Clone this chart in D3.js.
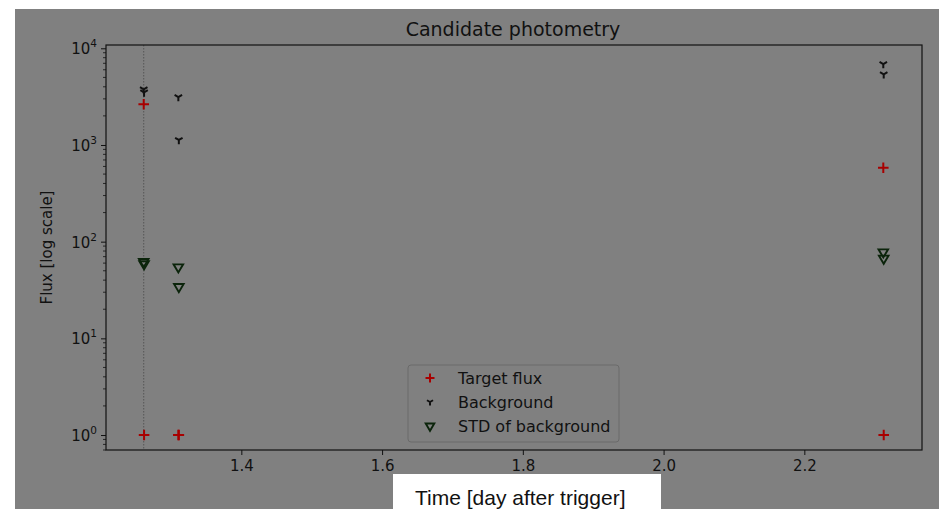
<!DOCTYPE html>
<html>
<head>
<meta charset="utf-8">
<script src="https://cdn.jsdelivr.net/npm/d3@7"></script>
<style>
  body { margin: 0; background: #ffffff; }
  svg { display: block; }
</style>
</head>
<body>
<div id="chart"></div>
<script>
// observation times (days after trigger)
var times = [1.2613, 1.2618, 1.3105, 1.3112, 2.3122, 2.3128];
var targetFlux = [2640, 1.0, 1.0, 1.0, 582, 1.0];
var background = [3770, 3500, 3135, 1127, 6880, 5390];
var stdBackground = [61, 58, 53.8, 33.7, 76.9, 66.2];
var triggerTime = 1.2613;
var xTicks = [1.4, 1.6, 1.8, 2.0, 2.2];
var yTicks = [1, 10, 100, 1000, 10000];
var legendLabels = ["Target flux", "Background", "STD of background"];

var W = 939, H = 509;
var mLeft = 106, mRight = 922, mTop = 45, mBottom = 450;

var svg = d3.select("#chart").append("svg")
  .attr("width", W).attr("height", H);

// figure background
svg.append("rect").attr("x", 15).attr("y", 9).attr("width", W - 15).attr("height", H - 9)
  .style("fill", "#808080");

var x = d3.scaleLinear().domain([1.2077, 2.3672]).range([mLeft, mRight]);
var y = d3.scaleLog().domain([0.70, 10820]).range([mBottom, mTop]);

svg.append("text")
  .attr("x", 513).attr("y", 36)
  .attr("text-anchor", "middle")
  .style("font-family", "DejaVu Sans").style("font-size", "19px").style("fill", "#111")
  .text("Candidate photometry");

// x axis
var xAxis = svg.append("g").attr("transform", "translate(0," + mBottom + ")")
  .call(d3.axisBottom(x).tickValues(xTicks).tickFormat(d3.format(".1f")).tickSize(5).tickPadding(5));
xAxis.select(".domain").remove();
xAxis.selectAll("line").style("stroke", "#111");
xAxis.selectAll("text").style("font-family", "DejaVu Sans").style("font-size", "15px").style("fill", "#111");

// y axis major ticks
var yAxis = svg.append("g").attr("transform", "translate(" + mLeft + ",0)")
  .call(d3.axisLeft(y).tickValues(yTicks).tickFormat("").tickSize(5));
yAxis.select(".domain").remove();
yAxis.selectAll("line").style("stroke", "#111");

// minor ticks
var minor = [];
for (var e = -1; e <= 4; e++) {
  for (var m = 2; m <= 9; m++) {
    var v = m * Math.pow(10, e);
    if (v >= 0.70 && v <= 10820) minor.push(v);
  }
}
svg.append("g").selectAll("line").data(minor).enter().append("line")
  .attr("x1", mLeft - 3).attr("x2", mLeft)
  .attr("y1", function(d) { return y(d); }).attr("y2", function(d) { return y(d); })
  .style("stroke", "#111").style("stroke-width", 0.8);

// y tick labels 10^n
var yl = svg.append("g").selectAll("text").data(yTicks).enter().append("text")
  .attr("x", mLeft - 9).attr("y", function(d) { return y(d) + 6; })
  .attr("text-anchor", "end")
  .style("font-family", "DejaVu Sans").style("font-size", "15px").style("fill", "#111");
yl.append("tspan").text("10");
yl.append("tspan").attr("dy", -7).style("font-size", "10.5px")
  .text(function(d) { return Math.round(Math.log10(d)); });

svg.append("text")
  .attr("transform", "translate(52," + ((mTop + mBottom) / 2) + ") rotate(-90)")
  .attr("text-anchor", "middle")
  .style("font-family", "DejaVu Sans").style("font-size", "15px").style("fill", "#111")
  .text("Flux [log scale]");

// trigger line
svg.append("line")
  .attr("x1", x(triggerTime)).attr("x2", x(triggerTime))
  .attr("y1", mTop).attr("y2", mBottom)
  .style("stroke", "#555").style("stroke-width", 1).style("stroke-dasharray", "1.5,1.5");

// markers
function plus(g, s) {
  g.append("path").attr("d", "M" + (-s) + ",0H" + s + "M0," + (-s) + "V" + s)
    .style("stroke", "#a80000").style("stroke-width", 2).style("fill", "none");
}
function tri(g, s) {
  g.append("path").attr("d", "M0,0V" + s + "M0,0L" + (-s * 0.87) + "," + (-s * 0.5) + "M0,0L" + (s * 0.87) + "," + (-s * 0.5))
    .style("stroke", "#111").style("stroke-width", 2).style("fill", "none");
}
function vdown(g, s) {
  g.append("path").attr("d", "M" + (-s) + "," + (-s * 0.7) + "L" + s + "," + (-s * 0.7) + "L0," + (s * 1.0) + "Z")
    .style("stroke", "#0b240b").style("stroke-width", 1.9).style("fill", "none");
}

var plot = svg.append("g");
times.forEach(function(t, i) {
  vdown(plot.append("g").attr("transform", "translate(" + x(t) + "," + y(stdBackground[i]) + ")"), 4.8);
  tri(plot.append("g").attr("transform", "translate(" + x(t) + "," + y(background[i]) + ")"), 4.3);
  plus(plot.append("g").attr("transform", "translate(" + x(t) + "," + y(targetFlux[i]) + ")"), 5.3);
});

// frame
svg.append("rect").attr("x", mLeft).attr("y", mTop).attr("width", mRight - mLeft).attr("height", mBottom - mTop)
  .style("fill", "none").style("stroke", "#111").style("stroke-width", 1.2);

// legend
var lg = svg.append("g");
lg.append("rect").attr("x", 408).attr("y", 365).attr("width", 211).attr("height", 77).attr("rx", 3)
  .style("fill", "#808080").style("stroke", "#6a6a6a").style("stroke-width", 1);
var ly = [378, 402, 426.5];
plus(lg.append("g").attr("transform", "translate(430," + ly[0] + ")"), 4.5);
tri(lg.append("g").attr("transform", "translate(430," + ly[1] + ")"), 3.5);
vdown(lg.append("g").attr("transform", "translate(430," + ly[2] + ")"), 4.3);
lg.selectAll("text.lab").data(legendLabels).enter().append("text")
  .attr("x", 458).attr("y", function(d, i) { return ly[i] + 5.5; })
  .style("font-family", "DejaVu Sans").style("font-size", "16px").style("fill", "#111")
  .text(function(d) { return d; });

// x label in white box
svg.append("rect").attr("x", 393).attr("y", 474).attr("width", 268).attr("height", 35).style("fill", "#ffffff");
svg.append("text")
  .attr("x", 415).attr("y", 505)
  .style("font-family", "Liberation Sans").style("font-size", "21px").style("fill", "#111")
  .text("Time [day after trigger]");
</script>
</body>
</html>
